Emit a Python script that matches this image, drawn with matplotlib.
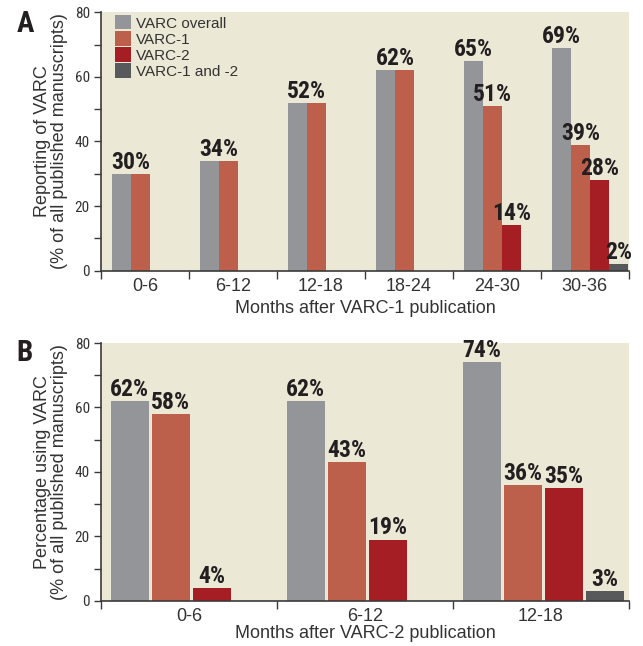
import matplotlib
matplotlib.use("Agg")
import matplotlib.pyplot as plt
from matplotlib.patches import Patch
from matplotlib.ticker import MultipleLocator
import numpy as np

# Panel A: months after VARC-1 publication
months_a = ["0-6", "6-12", "12-18", "18-24", "24-30", "30-36"]
overall_a = [30, 34, 52, 62, 65, 69]
varc1_a = [30, 34, 52, 62, 51, 39]
varc2_a = [0, 0, 0, 0, 14, 28]
both_a = [0, 0, 0, 0, 0, 2]

# Panel B: months after VARC-2 publication
months_b = ["0-6", "6-12", "12-18"]
overall_b = [62, 62, 74]
varc1_b = [58, 43, 36]
varc2_b = [4, 19, 35]
both_b = [0, 0, 3]

series_names = ["VARC overall", "VARC-1", "VARC-2", "VARC-1 and -2"]
colors = ["#939598", "#BC604B", "#A51E23", "#58595B"]
bg = "#ECE8D6"
spine_col = "#3a3a3a"
text_col = "#333333"

plt.rcParams["font.family"] = ["Liberation Sans", "DejaVu Sans"]
cond = ["Roboto Condensed", "DejaVu Sans"]

fig = plt.figure(figsize=(6.43, 6.46), dpi=100)
ax_a = fig.add_axes([0.157, 0.581, 0.821, 0.400])
ax_b = fig.add_axes([0.157, 0.070, 0.821, 0.399])


def style_axis(ax, n, labels, ylabel, xlabel, xpad):
    ax.set_facecolor(bg)
    ax.set_xlim(0, n)
    ax.set_ylim(0, 80)
    for s in ["top", "right"]:
        ax.spines[s].set_visible(False)
    for s in ["left", "bottom"]:
        ax.spines[s].set_color(spine_col)
        ax.spines[s].set_linewidth(1.2)
    ax.yaxis.set_major_locator(MultipleLocator(20))
    ax.yaxis.set_minor_locator(MultipleLocator(10))
    ax.tick_params(axis="y", which="both", length=5, width=1, color=spine_col,
                   labelsize=11, pad=3, labelcolor=text_col)
    for t in ax.get_yticklabels():
        t.set_family(cond)
    ax.set_xticks(np.arange(n + 1))
    ax.set_xticklabels([])
    ax.set_xticks(np.arange(n) + 0.5, minor=True)
    ax.set_xticklabels(labels, minor=True, fontsize=13, color=text_col)
    ax.tick_params(axis="x", which="major", length=6, width=1, color=spine_col)
    ax.tick_params(axis="x", which="minor", length=0, pad=5)
    ax.set_ylabel(ylabel, fontsize=13, color=text_col, labelpad=5,
                  linespacing=1.0)
    ax.set_xlabel(xlabel, fontsize=13, color=text_col, labelpad=xpad)


def value_label(ax, x, v):
    ax.text(x, v + 1.6, f"{v}%", ha="center", va="baseline", family=cond,
            fontweight="bold", fontsize=17, color="#231f20", clip_on=False)


# Panel A bars sit flush against each other
n_a = len(months_a)
w_a = 0.216
x0_a = np.arange(n_a) + 0.125
data_a = [overall_a, varc1_a, varc2_a, both_a]
for k, vals in enumerate(data_a):
    for i, v in enumerate(vals):
        if v > 0:
            ax_a.bar(x0_a[i] + k * w_a, v, width=w_a, align="edge",
                     color=colors[k], linewidth=0)
for i in range(n_a):
    if overall_a[i] == varc1_a[i]:
        value_label(ax_a, x0_a[i] + w_a, overall_a[i])
    else:
        for k, vals in enumerate(data_a):
            if vals[i] > 0:
                value_label(ax_a, x0_a[i] + (k + 0.5) * w_a, vals[i])

style_axis(ax_a, n_a, months_a, "Reporting of VARC\n(% of all published manuscripts)",
           "Months after VARC-1 publication", 4)

handles = [Patch(facecolor=c, edgecolor="none") for c in colors]
ax_a.legend(handles, series_names, loc="upper left", frameon=False,
            fontsize=11, handlelength=1.05, handleheight=1.05,
            labelspacing=0.05, handletextpad=0.35, borderaxespad=0,
            borderpad=0, bbox_to_anchor=(14 / 528, 1 - 3 / 258),
            labelcolor=text_col)

# Panel B bars have a narrow gap between them
n_b = len(months_b)
slot_b = 0.233
w_b = 0.216
x0_b = np.arange(n_b) + 0.055
data_b = [overall_b, varc1_b, varc2_b, both_b]
for k, vals in enumerate(data_b):
    for i, v in enumerate(vals):
        if v > 0:
            ax_b.bar(x0_b[i] + k * slot_b, v, width=w_b, align="edge",
                     color=colors[k], linewidth=0)
            value_label(ax_b, x0_b[i] + k * slot_b + w_b / 2, v)

style_axis(ax_b, n_b, months_b, "Percentage using VARC\n(% of all published manuscripts)",
           "Months after VARC-2 publication", 0.5)

fig.text(0.026, 0.963, "A", family=cond, fontweight="bold", fontsize=21,
         color="#231f20", va="center")
fig.text(0.026, 0.454, "B", family=cond, fontweight="bold", fontsize=21,
         color="#231f20", va="center")

fig.savefig("out.png", dpi=100, facecolor="white")
